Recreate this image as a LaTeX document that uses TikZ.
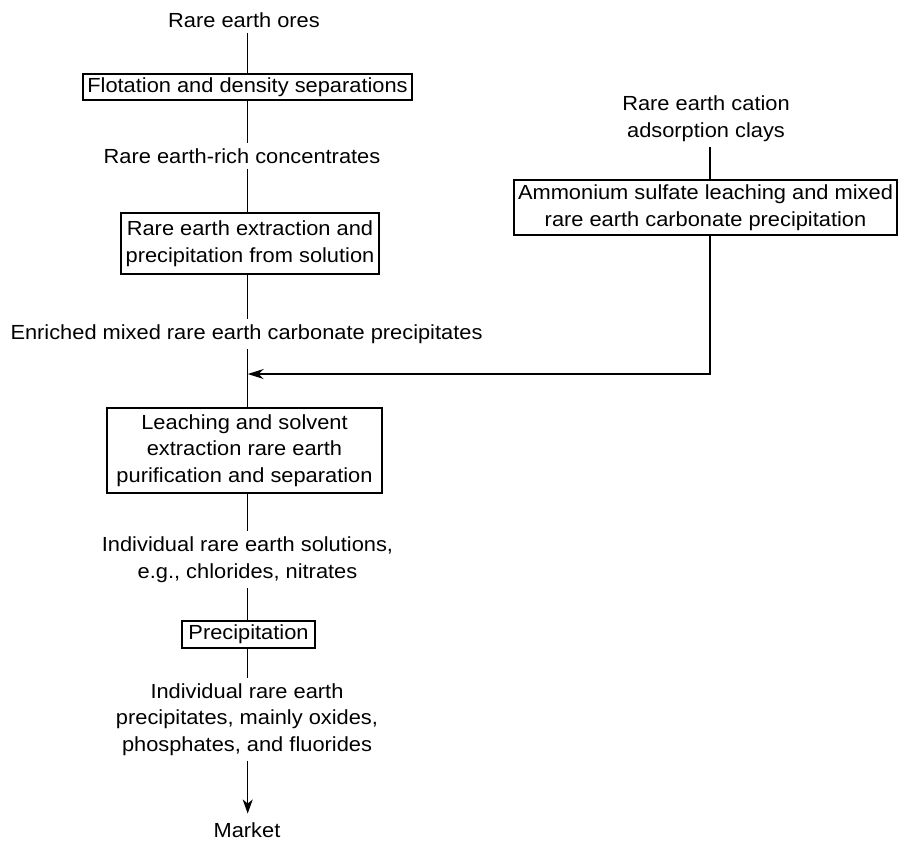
\documentclass[tikz,border=0pt]{standalone}
\usepackage{fontspec}
\setmainfont{Liberation Sans}[FakeStretch=1.07]
\usetikzlibrary{arrows.meta}

\begin{document}
\begin{tikzpicture}[x=1pt, y=-1pt, line width=1.4pt,
  txt/.style={font=\fontsize{20.4}{26.5}\selectfont},
  lbl/.style={txt, inner xsep=0pt, inner ysep=5pt, align=center},
  stage/.style={txt, draw, line width=1.4pt, inner sep=0pt, align=center},
  flow/.style={line width=1.4pt},
  tip/.style={-{Stealth[length=16pt, width=10pt, inset=5pt]}},
]
\useasboundingbox (0,0) rectangle (899,841);

% x position of the main vertical flow line
\coordinate (spine) at (247.7,0);

% main processing route (multi-line labels are placed by their last baseline)
\node[lbl, anchor=base] (ores) at (244,27) {Rare earth ores};
\node[stage, minimum width=329pt, minimum height=26pt] (flot) at (247.5,87)
  {Flotation and density separations};
\node[lbl, anchor=base] (conc) at (242,163) {Rare earth-rich concentrates};
\node[stage, minimum width=258pt, minimum height=61pt] (extr) at (250,243.5)
  {Rare earth extraction and\\precipitation from solution};
\node[lbl, anchor=base] (enr) at (246.5,339)
  {Enriched mixed rare earth carbonate precipitates};
\node[stage, minimum width=275pt, minimum height=85pt] (purif) at (244.5,450.5)
  {Leaching and solvent\\extraction rare earth\\purification and separation};
\node[lbl, anchor=base] (sols) at (247.5,578)
  {Individual rare earth solutions,\\e.g., chlorides, nitrates};
\node[stage, minimum width=133pt, minimum height=27pt] (prec) at (248.5,634.5)
  {Precipitation};
\node[lbl, anchor=base] (prods) at (247,751)
  {Individual rare earth\\precipitates, mainly oxides,\\phosphates, and fluorides};
\node[lbl, anchor=base] (market) at (247,837) {Market};

% ion-adsorption clay route
\node[lbl, anchor=base] (clays) at (706,137)
  {Rare earth cation\\adsorption clays};
\node[stage, minimum width=383pt, minimum height=55pt] (ammo) at (705.5,207.5)
  {Ammonium sulfate leaching and mixed\\rare earth carbonate precipitation};

% where the clay route joins the main line
\coordinate (merge) at (247.7,374);
\coordinate (rise) at (710,0);

% connectors
\draw[flow] (ores.south -| spine) -- (flot.north -| spine);
\draw[flow] (flot.south -| spine) -- (conc.north -| spine);
\draw[flow] (conc.south -| spine) -- (extr.north -| spine);
\draw[flow] (extr.south -| spine) -- (enr.north -| spine);
\draw[flow] (enr.south -| spine) -- (purif.north -| spine);
\draw[flow] (purif.south -| spine) -- (sols.north -| spine);
\draw[flow] (sols.south -| spine) -- (prec.north -| spine);
\draw[flow] (prec.south -| spine) -- (prods.north -| spine);
\draw[flow, -{Stealth[length=14pt, width=10pt, inset=4pt]}, shorten >=3pt]
  (prods.south -| spine) -- (market.north -| spine);

\draw[flow] (clays.south -| rise) -- (ammo.north -| rise);
\draw[flow, tip] (ammo.south -| rise) |- (merge);
\end{tikzpicture}
\end{document}
